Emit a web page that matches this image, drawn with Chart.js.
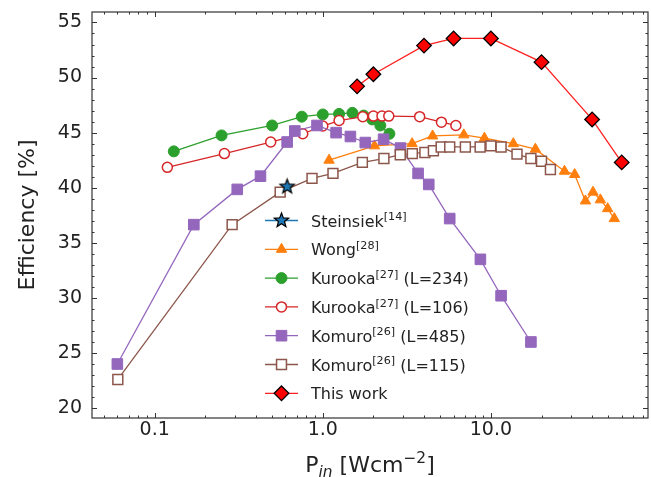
<!DOCTYPE html>
<html>
<head>
<meta charset="utf-8">
<script src="https://cdn.jsdelivr.net/npm/chart.js@4.4.1/dist/chart.umd.min.js"></script>
<style>
  html, body { margin: 0; padding: 0; background: #fff; }
</style>
</head>
<body>
<canvas id="myChart" width="651" height="477"></canvas>
<script>
// series (x = P_in in W/cm2, y = efficiency in %)
var steinsiekX = [0.614];
var steinsiekY = [40.1];

var wongX = [1.09, 2.03, 3.4, 4.5, 6.9, 9.15, 13.6, 18.4, 27.4, 31.5, 36.5, 40.5, 44.8, 49.5, 54.2];
var wongY = [42.5, 43.8, 44.0, 44.7, 44.8, 44.5, 44.0, 43.5, 41.5, 41.2, 38.8, 39.6, 38.9, 38.1, 37.2];

var kurooka234X = [0.13, 0.25, 0.5, 0.75, 1.0, 1.25, 1.5, 1.75, 1.97, 2.2, 2.49];
var kurooka234Y = [43.3, 44.75, 45.65, 46.45, 46.65, 46.7, 46.8, 46.55, 46.2, 45.65, 44.9];

var kurooka106X = [0.119, 0.26, 0.49, 0.76, 1.0, 1.25, 1.73, 2.0, 2.25, 2.47, 3.77, 5.08, 6.19];
var kurooka106Y = [41.85, 43.1, 44.15, 44.9, 45.6, 46.1, 46.45, 46.5, 46.5, 46.5, 46.45, 45.95, 45.65];

var komuro485X = [0.06, 0.171, 0.31, 0.426, 0.614, 0.682, 0.924, 1.2, 1.46, 1.79, 2.3, 2.9, 3.69, 4.27, 5.69, 8.66, 11.5, 17.3];
var komuro485Y = [24.0, 36.65, 39.85, 41.05, 44.15, 45.15, 45.65, 45.0, 44.65, 44.1, 44.4, 43.6, 41.3, 40.3, 37.2, 33.5, 30.2, 26.0];

var komuro115X = [0.0604, 0.289, 0.558, 0.863, 1.15, 1.72, 2.31, 2.89, 3.41, 4.05, 4.55, 5.06, 5.69, 7.05, 8.63, 10.0, 11.5, 14.3, 17.3, 20.0, 22.6];
var komuro115Y = [22.6, 36.65, 39.6, 40.85, 41.3, 42.3, 42.65, 43.0, 43.1, 43.2, 43.35, 43.7, 43.7, 43.7, 43.7, 43.8, 43.7, 43.05, 42.65, 42.4, 41.65];

var thisWorkX = [1.6, 2.0, 4.0, 6.0, 10.0, 20.0, 40.0, 60.0];
var thisWorkY = [49.2, 50.3, 52.9, 53.55, 53.55, 51.4, 46.2, 42.3];

// legend text: name, superscript reference, note
var seriesNames = ["Steinsiek", "Wong", "Kurooka", "Kurooka", "Komuro", "Komuro", "This work"];
var seriesRefs = ["[14]", "[28]", "[27]", "[27]", "[26]", "[26]", ""];
var seriesNotes = ["", "", " (L=234)", " (L=106)", " (L=485)", " (L=115)", ""];

var xTickValues = [0.1, 1, 10];
var yTickValues = [20, 25, 30, 35, 40, 45, 50, 55];

var FONT = '"DejaVu Sans", "Liberation Sans", sans-serif';

function pts(xs, ys) {
  return xs.map(function (x, i) { return {x: x, y: ys[i]}; });
}

// filled five point star used as marker
function makeStar(r, fill, edge) {
  var c = document.createElement("canvas");
  var s = Math.ceil(2 * r + 4);
  c.width = s; c.height = s;
  var g = c.getContext("2d");
  g.beginPath();
  for (var i = 0; i < 10; i++) {
    var rr = i % 2 ? r * 0.42 : r;
    var a = -Math.PI / 2 + i * Math.PI / 5;
    var px = s / 2 + rr * Math.cos(a), py = s / 2 + rr * Math.sin(a);
    if (i) g.lineTo(px, py); else g.moveTo(px, py);
  }
  g.closePath();
  g.fillStyle = fill; g.fill();
  g.lineWidth = 1.2; g.strokeStyle = edge; g.stroke();
  return c;
}
var starImg = makeStar(7.5, "#1f77b4", "#000");

function series(label, xs, ys, line, style, radius, fill, edge, bw, order) {
  return {
    label: label,
    data: pts(xs, ys),
    showLine: true,
    borderColor: line,
    borderWidth: 1.3,
    pointStyle: style,
    pointRadius: radius,
    pointHoverRadius: radius,
    pointBackgroundColor: fill,
    pointBorderColor: edge,
    pointBorderWidth: bw,
    order: order
  };
}

var datasets = [
  series("Steinsiek", steinsiekX, steinsiekY, "#1f77b4", starImg, 7.5, "#1f77b4", "#000", 1, 0),
  series("Wong", wongX, wongY, "#ff7f0e", "triangle", 6, "#ff7f0e", "#ff7f0e", 1, 6),
  series("Kurooka (L=234)", kurooka234X, kurooka234Y, "#2ca02c", "circle", 5.5, "#2ca02c", "#2ca02c", 1, 5),
  series("Kurooka (L=106)", kurooka106X, kurooka106Y, "#d62728", "circle", 5, "#fff", "#d62728", 1.5, 4),
  series("Komuro (L=485)", komuro485X, komuro485Y, "#9467bd", "rect", 7.5, "#9467bd", "#9467bd", 1, 3),
  series("Komuro (L=115)", komuro115X, komuro115Y, "#8c564b", "rect", 7, "#fff", "#8c564b", 1.5, 2),
  series("This work", thisWorkX, thisWorkY, "#ff2020", "rectRot", 7.3, "#ff0000", "#000", 1.3, 1)
];

function richWidth(ctx, parts, size) {
  var w = 0;
  parts.forEach(function (p) {
    var s = (p.sup || p.sub) ? size * 0.7 : size;
    ctx.font = (p.italic ? "italic " : "") + s + "px " + FONT;
    w += ctx.measureText(p.t).width;
  });
  return w;
}

function drawRich(ctx, parts, x, y, size) {
  parts.forEach(function (p) {
    var s = (p.sup || p.sub) ? size * 0.7 : size;
    ctx.font = (p.italic ? "italic " : "") + s + "px " + FONT;
    var dy = p.sup ? -size * 0.4 : (p.sub ? size * 0.22 : 0);
    ctx.fillText(p.t, x, y + dy);
    x += ctx.measureText(p.t).width;
  });
}

// frame, inward ticks on all four sides, inline legend and x title
var decor = {
  id: "decor",
  afterDraw: function (chart) {
    var ctx = chart.ctx, a = chart.chartArea;
    var xs = chart.scales.x, ys = chart.scales.y;
    ctx.save();
    ctx.strokeStyle = "#333";
    ctx.lineWidth = 1;
    ctx.beginPath();
    function xt(v, len) {
      var p = Math.round(xs.getPixelForValue(v)) + 0.5;
      ctx.moveTo(p, a.bottom); ctx.lineTo(p, a.bottom - len);
      ctx.moveTo(p, a.top); ctx.lineTo(p, a.top + len);
    }
    function yt(v, len) {
      var p = Math.round(ys.getPixelForValue(v)) + 0.5;
      ctx.moveTo(a.left, p); ctx.lineTo(a.left + len, p);
      ctx.moveTo(a.right, p); ctx.lineTo(a.right - len, p);
    }
    [0.01, 0.1, 1, 10].forEach(function (d) {
      for (var k = 1; k < 10; k++) {
        var v = k * d;
        if (v >= xs.min && v <= xs.max) xt(v, k === 1 ? 5 : 2.5);
      }
    });
    for (var v = Math.ceil(ys.min); v <= ys.max; v++) yt(v, v % 5 === 0 ? 5 : 2.5);
    ctx.stroke();
    ctx.lineWidth = 1.2;
    ctx.strokeRect(a.left, a.top, a.right - a.left, a.bottom - a.top);

    // legend
    var lx0 = a.left + 173, lx1 = a.left + 206, tx = a.left + 219;
    chart.data.datasets.forEach(function (ds, i) {
      var cy = a.top + 208.5 + i * 28.8;
      ctx.strokeStyle = ds.borderColor;
      ctx.lineWidth = ds.borderWidth;
      ctx.beginPath(); ctx.moveTo(lx0, cy); ctx.lineTo(lx1, cy); ctx.stroke();
      ctx.fillStyle = ds.pointBackgroundColor;
      ctx.strokeStyle = ds.pointBorderColor;
      ctx.lineWidth = ds.pointBorderWidth;
      Chart.helpers.drawPoint(ctx, {
        pointStyle: ds.pointStyle, radius: ds.pointRadius,
        borderWidth: ds.pointBorderWidth, rotation: 0
      }, (lx0 + lx1) / 2, cy);
      ctx.fillStyle = "#222";
      ctx.textBaseline = "alphabetic";
      ctx.textAlign = "left";
      var parts = [{t: seriesNames[i]}];
      if (seriesRefs[i]) parts.push({t: seriesRefs[i], sup: true});
      if (seriesNotes[i]) parts.push({t: seriesNotes[i]});
      drawRich(ctx, parts, tx, cy + 6, 16);
    });

    // x axis title
    var title = [{t: "P"}, {t: "in", sub: true, italic: true}, {t: " [Wcm"}, {t: "\u22122", sup: true}, {t: "]"}];
    var w = richWidth(ctx, title, 22);
    ctx.fillStyle = "#222";
    drawRich(ctx, title, (a.left + a.right) / 2 - w / 2, 472, 22);
    ctx.restore();
  }
};

new Chart("myChart", {
  type: "scatter",
  data: {datasets: datasets},
  options: {
    responsive: false,
    animation: false,
    devicePixelRatio: 1,
    layout: {autoPadding: false, padding: {top: 12, right: 3, left: 0, bottom: 0}},
    plugins: {legend: {display: false}, tooltip: {enabled: false}},
    scales: {
      x: {
        type: "logarithmic",
        min: 0.0424,
        max: 86,
        grid: {display: false, drawTicks: false},
        border: {display: false},
        afterBuildTicks: function (s) { s.ticks = xTickValues.map(function (v) { return {value: v}; }); },
        afterFit: function (s) { s.height = 59; s.paddingLeft = 0; s.paddingRight = 0; },
        ticks: {
          padding: 1,
          color: "#222",
          font: {family: FONT, size: 19},
          maxRotation: 0,
          autoSkip: false,
          callback: function (v) { return Number(v).toFixed(1); }
        }
      },
      y: {
        min: 19.1,
        max: 55.95,
        grid: {display: false, drawTicks: false},
        border: {display: false},
        afterBuildTicks: function (s) { s.ticks = yTickValues.map(function (v) { return {value: v}; }); },
        afterFit: function (s) { s.width = 92; s.paddingTop = 0; s.paddingBottom = 0; },
        title: {
          display: true,
          text: "Efficiency [%]",
          color: "#222",
          font: {family: FONT, size: 22},
          padding: {top: 15, bottom: 0}
        },
        ticks: {
          padding: 10,
          color: "#222",
          font: {family: FONT, size: 19}
        }
      }
    }
  },
  plugins: [decor]
});
</script>
</body>
</html>
